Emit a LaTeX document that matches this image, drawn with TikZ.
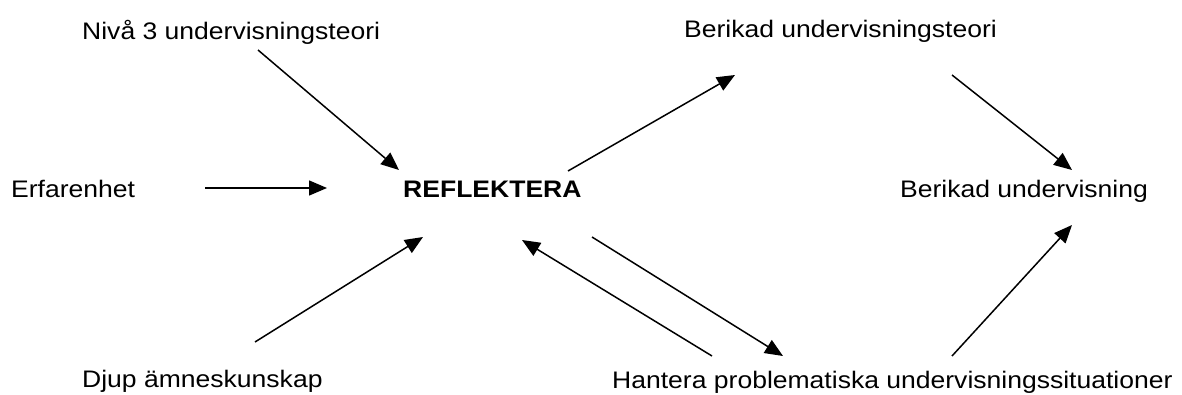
\documentclass[tikz,border=0pt]{standalone}
\usepackage{fontspec}
\setmainfont[FakeStretch=1.11]{Liberation Sans}
\usetikzlibrary{arrows.meta}
\begin{document}
\begin{tikzpicture}[x=1pt,y=-1pt,
  label/.style={anchor=base west,inner sep=0pt,font=\fontsize{23.9}{28}\selectfont},
  flow/.style={line width=1.5pt,-{Triangle[length=18pt,width=15pt]}}]
\useasboundingbox (0,0) rectangle (1182,395);
% concept labels
\node[label] (niva)  at (82,40)   {Nivå 3 undervisningsteori};
\node[label] (erf)   at (11,198)  {Erfarenhet};
\node[label] (djup)  at (82,387)  {Djup ämneskunskap};
\node[label,font=\fontsize{23.9}{28}\selectfont\bfseries] (refl) at (403,198) {REFLEKTERA};
\node[label] (bteori) at (684,38) {Berikad undervisningsteori};
\node[label] (bund)  at (900,198) {Berikad undervisning};
\node[label] (hant)  at (612,388) {Hantera problematiska undervisningssituationer};
% arrow end points
\coordinate (a1s) at (258,50);  \coordinate (a1e) at (399,170);
\coordinate (a2s) at (205,188); \coordinate (a2e) at (327,188);
\coordinate (a3s) at (255,342); \coordinate (a3e) at (423,237);
\coordinate (a4s) at (568,171); \coordinate (a4e) at (735,75);
\coordinate (a5s) at (952,75);  \coordinate (a5e) at (1072,170);
\coordinate (a6s) at (952,356); \coordinate (a6e) at (1072,225);
\coordinate (a7s) at (712,356); \coordinate (a7e) at (522,240);
\coordinate (a8s) at (592,237); \coordinate (a8e) at (783,356);
% connectors
\draw[flow] (a1s) -- (a1e);
\draw[flow] (a2s) -- (a2e);
\draw[flow] (a3s) -- (a3e);
\draw[flow] (a4s) -- (a4e);
\draw[flow] (a5s) -- (a5e);
\draw[flow] (a6s) -- (a6e);
\draw[flow] (a7s) -- (a7e);
\draw[flow] (a8s) -- (a8e);
\end{tikzpicture}
\end{document}
